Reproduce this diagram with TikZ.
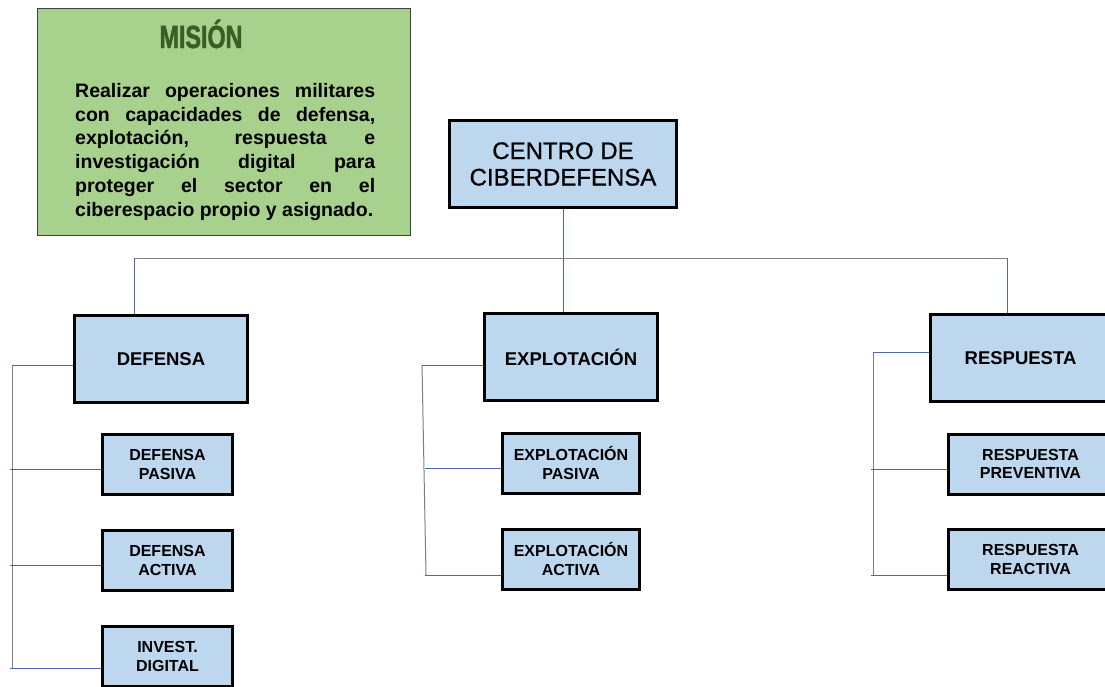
\documentclass[tikz,border=0pt]{standalone}
\usepackage{fontspec}
\setmainfont{Liberation Sans}
\newfontfamily\titlefont[FakeStretch=0.73,FakeBold=1.5]{Liberation Sans}
\newfontfamily\centrofont[FakeBold=0.8]{Liberation Sans}
\usetikzlibrary{positioning}
\definecolor{misiongreen}{HTML}{A9D18E}
\definecolor{misiontitle}{HTML}{3A5F24}
\definecolor{unitblue}{HTML}{BDD7EE}
\definecolor{linkblue}{HTML}{4A67B0}
\definecolor{linkgray}{HTML}{7F7F7F}
\newcommand{\jline}[1]{\makebox[300pt][s]{#1}}

\begin{document}
\begin{tikzpicture}[
  x=1pt, y=-1pt,
  every node/.style={inner sep=0pt, align=center},
  unit/.style={draw=black, line width=3pt, fill=unitblue,
    minimum width=173pt, minimum height=87pt,
    font=\fontsize{18.5}{22}\selectfont\bfseries},
  subunit/.style={draw=black, line width=3pt, fill=unitblue,
    minimum height=60pt, font=\fontsize{16}{18.5}\selectfont\bfseries},
  link/.style={linkblue, line width=0.9pt},
  trunk/.style={linkgray, line width=1pt}
]
\useasboundingbox (0,0) rectangle (1105,686);

% mission box
\node[draw=darkgray, line width=1pt, fill=misiongreen,
  minimum width=373pt, minimum height=227pt] (mision) at (224,122) {};
\node[anchor=base, text=misiontitle,
  font=\titlefont\fontsize{32}{34}\selectfont\bfseries] (misiontit) at (201,48) {MISIÓN};
\node[anchor=north west, align=left,
  font=\fontsize{19.5}{23.8}\selectfont\bfseries] (misiontxt) at (75,83)
  {\jline{Realizar operaciones militares}\\
   \jline{con capacidades de defensa,}\\
   \jline{explotación, respuesta e}\\
   \jline{investigación digital para}\\
   \jline{proteger el sector en el}\\
   ciberespacio propio y asignado.};

% units
\node[unit, minimum width=227pt, font=\centrofont\fontsize{24}{26.5}\selectfont] (centro) at (563,164) {CENTRO DE\\CIBERDEFENSA};
\node[unit] (defensa) at (161,359) {DEFENSA};
\node[unit] (explot) at (571,357) {EXPLOTACIÓN};
\node[unit, minimum width=180pt] (respuesta) at (1020.5,358) {RESPUESTA};

% sub-units
\node[subunit, minimum width=130pt] (defpas) at (167.5,464.5) {DEFENSA\\PASIVA};
\node[subunit, minimum width=130pt] (defact) at (167.5,560.5) {DEFENSA\\ACTIVA};
\node[subunit, minimum width=130pt] (definv) at (167.5,656.5) {INVEST.\\DIGITAL};
\node[subunit, minimum width=137pt] (exppas) at (571,463) {EXPLOTACIÓN\\PASIVA};
\node[subunit, minimum width=137pt] (expact) at (571,559) {EXPLOTACIÓN\\ACTIVA};
\node[subunit, minimum width=164pt] (resprev) at (1030.5,464) {RESPUESTA\\PREVENTIVA};
\node[subunit, minimum width=164pt] (resreac) at (1030.5,559.5) {RESPUESTA\\REACTIVA};

% top level links
\coordinate (busL) at (134,258);
\coordinate (busR) at (1007,258);
\draw[link] (centro.south) -- (centro.south |- explot.north);
\draw[trunk] (busL) -- (busR);
\draw[link] (busL) -- (busL |- defensa.north);
\draw[link] (busR) -- (busR |- respuesta.north);

% defensa
\coordinate (dtop) at (12,365);
\coordinate (dbot) at (12,668);
\draw[trunk] (dtop) -- (dbot);
\draw[link] (dtop) -- (dtop -| defensa.west);
\foreach \n/\y in {defpas/469, defact/565, definv/668}
  \draw[link] (10,\y) -- (\n.west |- 10,\y);

% explotacion
\coordinate (etop) at (422,365);
\coordinate (ebot) at (426,575);
\draw[trunk] (etop) -- (ebot);
\draw[link] (etop) -- (etop -| explot.west);
\foreach \n/\y in {exppas/468, expact/575}
  \draw[link] (425,\y) -- (\n.west |- 425,\y);

% respuesta
\coordinate (rtop) at (873,352);
\coordinate (rbot) at (873,575);
\draw[trunk] (rtop) -- (rbot);
\draw[link] (rtop) -- (rtop -| respuesta.west);
\foreach \n/\y in {resprev/469, resreac/575}
  \draw[link] (871,\y) -- (\n.west |- 871,\y);
\end{tikzpicture}
\end{document}
